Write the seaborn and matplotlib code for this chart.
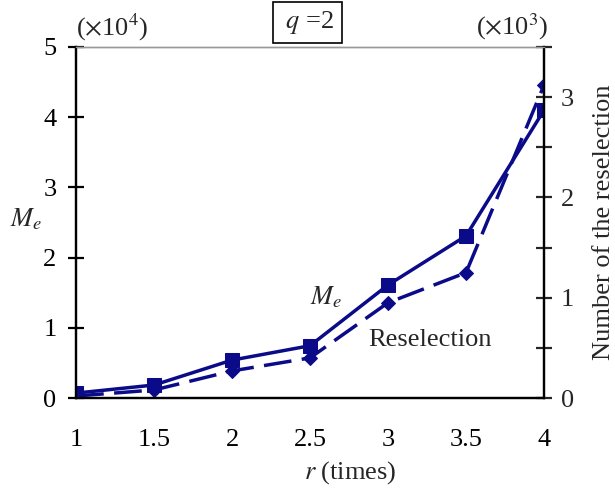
import numpy as np
import pandas as pd
import matplotlib
matplotlib.use('Agg')
import matplotlib.pyplot as plt
import seaborn as sns

# chart values
r_times = [1, 1.5, 2, 2.5, 3, 3.5, 4]
me_values = [0.07, 0.185, 0.54, 0.745, 1.61, 2.31, 4.10]          # x 10^4
reselection = [0.02, 0.08, 0.27, 0.40, 0.95, 1.25, 3.12]          # x 10^3
x_ticks = [1, 1.5, 2, 2.5, 3, 3.5, 4]
x_tick_labels = ['1', '1.5', '2', '2.5', '3', '3.5', '4']
left_ticks = [0, 1, 2, 3, 4, 5]
right_ticks = [0, 1, 2, 3]
right_minor = [0.5, 1.5, 2.5, 3.5]

sns.set_style('white')
plt.rcParams['font.family'] = ['Liberation Serif', 'DejaVu Serif']
plt.rcParams['mathtext.fontset'] = 'stix'
navy = '#0b0b8a'
fs = 19

df = pd.DataFrame({'r': r_times, 'Me': me_values, 'Res': reselection})

fig = plt.figure(figsize=(6.15, 4.88), dpi=100)
ax = fig.add_axes([0.1236, 0.1844, 0.761, 0.7193])
ax2 = ax.twinx()

sns.lineplot(data=df, x='r', y='Me', ax=ax, color=navy, lw=2.5, marker='s',
             markersize=9.5, markeredgecolor=navy, markerfacecolor=navy)
sns.lineplot(data=df, x='r', y='Res', ax=ax2, color=navy, lw=2.5, marker='D',
             markersize=7, markeredgecolor=navy, markerfacecolor=navy,
             dashes=False, linestyle=(0, (8, 3)))

ax.set_xlim(1, 4)
ax.set_ylim(0, 5)
ax2.set_ylim(0, 3.5)
ax.set_xticks(x_ticks)
ax.set_xticklabels(x_tick_labels)
ax.set_yticks(left_ticks)
ax2.set_yticks(right_ticks)
ax2.set_yticks(right_minor, minor=True)

for a in (ax, ax2):
    for s in a.spines.values():
        s.set_color('black')
        s.set_linewidth(1.6)
    a.spines['top'].set_color('#999999')
    a.spines['top'].set_linewidth(1.0)

ax.tick_params(axis='both', direction='inout', length=12, width=1.6,
               labelsize=fs, colors='black', pad=8)
ax.tick_params(axis='x', pad=16)
ax2.tick_params(axis='y', which='both', direction='inout', length=12,
                width=1.6, labelsize=fs, pad=6, left=False, right=True)
ax.tick_params(axis='y', right=False)
ax2.yaxis.set_ticks_position('right')

ax.set_xlabel(r'$\it{r}$ (times)', fontsize=fs, va='center')
ax.xaxis.set_label_coords(0.585, -0.213)
ax.set_ylabel(r'$M_e$', fontsize=fs, rotation=0, va='center', ha='center')
ax.yaxis.set_label_coords(-0.107, 0.51)
ax2.set_ylabel('Number of the reselection', fontsize=fs, labelpad=14)

ax.text(0.0, 1.057, r'($\times$10$^4$)', transform=ax.transAxes, fontsize=fs,
        ha='left', va='center')
ax.text(1.01, 1.057, r'($\times$10$^3$)', transform=ax.transAxes, fontsize=fs,
        ha='right', va='center')
ax.text(0.495, 1.07, r' $q$ =2 ', transform=ax.transAxes, fontsize=fs,
        ha='center', va='center',
        bbox=dict(boxstyle='square,pad=0.25', fc='white', ec='black', lw=1.2))

ax.text(2.60, 1.44, r'$M_e$', fontsize=fs, ha='center', va='center')
ax.text(3.27, 0.83, 'Reselection', fontsize=fs, ha='center', va='center')

fig.savefig('out.png', dpi=100)
